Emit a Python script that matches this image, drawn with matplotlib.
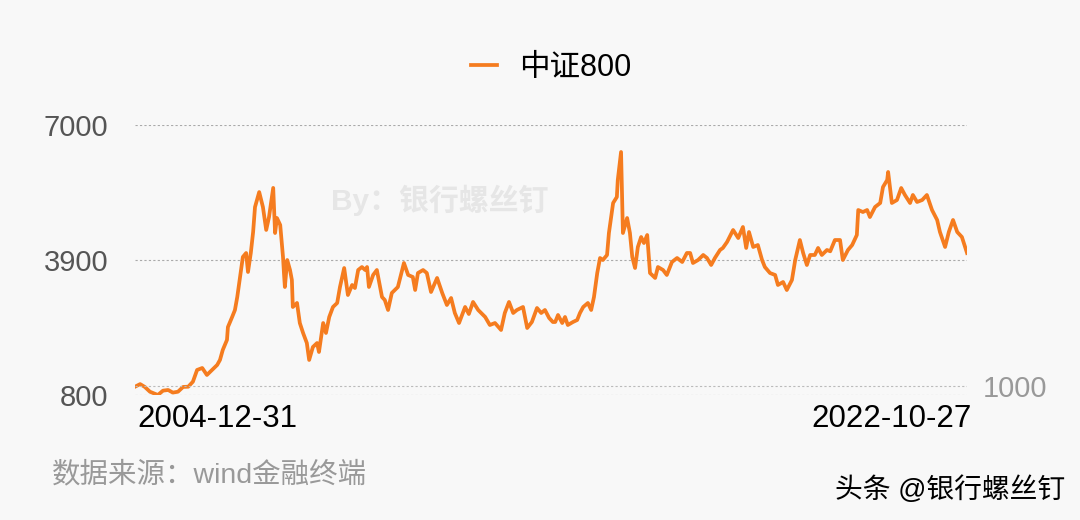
import matplotlib
matplotlib.use('Agg')
import matplotlib.pyplot as plt

plt.rcParams['font.family'] = ['Liberation Sans', 'Noto Sans CJK SC', 'DejaVu Sans']

# 中证800, 时间用小数年表示
t = [2005.00, 2005.11, 2005.21, 2005.32, 2005.43, 2005.49, 2005.60, 2005.71, 2005.81, 2005.92,
     2006.03, 2006.14, 2006.24, 2006.33, 2006.44, 2006.54, 2006.65, 2006.76, 2006.82, 2006.88,
     2006.97, 2006.99, 2007.08, 2007.14, 2007.19, 2007.25, 2007.31, 2007.38, 2007.42, 2007.48,
     2007.53, 2007.57, 2007.66, 2007.74, 2007.81, 2007.87, 2007.96, 2008.00,
     2008.04, 2008.11, 2008.17, 2008.19, 2008.21, 2008.26, 2008.32, 2008.36, 2008.38, 2008.47,
     2008.53, 2008.60, 2008.68, 2008.73, 2008.81, 2008.90, 2008.94, 2009.03, 2009.09, 2009.16,
     2009.24, 2009.33, 2009.39, 2009.48, 2009.56, 2009.65, 2009.71, 2009.78, 2009.86, 2009.93,
     2009.97, 2010.01, 2010.10, 2010.18, 2010.29, 2010.35, 2010.42, 2010.50, 2010.63, 2010.76,
     2010.85, 2010.95, 2011.00,
     2011.06, 2011.17, 2011.25, 2011.34, 2011.47, 2011.58, 2011.68, 2011.77, 2011.85, 2011.94,
     2012.07, 2012.15, 2012.24, 2012.35, 2012.50, 2012.60, 2012.71, 2012.84, 2012.92, 2013.01,
     2013.10, 2013.18, 2013.31, 2013.40, 2013.50, 2013.61, 2013.70, 2013.78, 2013.87, 2013.95,
     2014.00, 2014.06, 2014.15, 2014.21, 2014.27, 2014.38, 2014.47, 2014.53, 2014.60, 2014.70,
     2014.77, 2014.83, 2014.90, 2014.96, 2015.02, 2015.11, 2015.15, 2015.24, 2015.32, 2015.34,
     2015.41, 2015.45, 2015.54, 2015.60, 2015.65, 2015.71, 2015.77, 2015.84, 2015.90, 2015.97,
     2016.03, 2016.14, 2016.20, 2016.31, 2016.39, 2016.50, 2016.61, 2016.72, 2016.82, 2016.89,
     2016.95, 2017.06, 2017.17, 2017.25, 2017.34, 2017.42, 2017.53, 2017.59, 2017.68, 2017.81,
     2017.92, 2018.02, 2018.09, 2018.15, 2018.24, 2018.34, 2018.43, 2018.49, 2018.60, 2018.71,
     2018.77, 2018.88, 2018.96, 2019.07, 2019.14, 2019.24, 2019.31, 2019.39, 2019.46, 2019.56,
     2019.63, 2019.71, 2019.82, 2019.89, 2019.99, 2020.10, 2020.16, 2020.27, 2020.36, 2020.46,
     2020.49, 2020.59, 2020.68, 2020.74, 2020.85, 2020.96, 2021.02, 2021.11, 2021.13, 2021.21,
     2021.32, 2021.41, 2021.49, 2021.60, 2021.66, 2021.75, 2021.86, 2021.96, 2022.07, 2022.18,
     2022.24, 2022.35, 2022.43, 2022.52, 2022.61, 2022.71, 2022.82]

csi800 = [990, 1050, 985, 875, 825, 800, 900, 915, 855, 875,
          985, 990, 1105, 1375, 1420, 1260, 1375, 1490, 1605, 1835,
          2065, 2360, 2590, 2750, 3050, 3510, 3970, 4060, 3625, 4060,
          4545, 5115, 5460, 5115, 4590, 4885, 5555, 4520,
          4864, 4704, 3969, 3601, 3280, 3900, 3670, 3441, 2821, 2913,
          2453, 2224, 1994, 1604, 1902, 1994, 1787, 2453, 2224, 2591,
          2821, 2913, 3280, 3716, 3096, 3326, 3257, 3670, 3739, 3670,
          3739, 3280, 3556, 3670, 3050, 2981, 2752, 3142, 3280, 3831,
          3556, 3510, 3211,
          3601, 3670, 3601, 3165, 3487, 3142, 2867, 3027, 2683, 2453,
          2821, 2660, 2936, 2752, 2591, 2407, 2453, 2293, 2683, 2936,
          2683, 2752, 2821, 2339, 2476, 2798, 2683, 2752, 2568, 2476,
          2476, 2637, 2453, 2591, 2407, 2476, 2522, 2683, 2821, 2913,
          2752, 3050, 3601, 3946, 3900, 4015, 4520, 5209, 5347, 5737,
          6380, 4520, 4864, 4520, 3969, 3716, 4199, 4428, 4290, 4474,
          3601, 3487, 3739, 3670, 3556, 3854, 3946, 3854, 4061, 4061,
          3831, 3900, 4015, 3946, 3785, 3946, 4130, 4176, 4313, 4589,
          4405, 4658, 4176, 4543, 4199, 4244, 3900, 3739, 3601, 3556,
          3326, 3395, 3211, 3441, 3900, 4359, 4061, 3785, 4015, 4015,
          4176, 4015, 4130, 4100, 4359, 4359, 3900, 4130, 4244, 4474,
          5048, 5002, 5048, 4887, 5117, 5209, 5576, 5737, 5921, 5209,
          5278, 5553, 5393, 5209, 5393, 5232, 5278, 5393, 5048, 4819,
          4543, 4199, 4543, 4819, 4543, 4428, 4061]

left_ticks = [800, 3900, 7000]
right_ticks = [1000]
date_labels = ['2004-12-31', '2022-10-27']

bg = '#f8f8f8'
orange = '#f57c1f'

fig = plt.figure(figsize=(10.8, 5.2), dpi=100, facecolor=bg)
ax = fig.add_axes([0.125, 0.2404, 0.7704, 0.5192])
ax.set_facecolor(bg)

ax.plot(t, csi800, color=orange, lw=2.7, label='中证800', zorder=3)

ax.set_xlim(t[0], t[-1])
ax.set_ylim(800, 7000)
ax.set_yticks(left_ticks)
ax.set_yticklabels([str(v) for v in left_ticks], fontsize=21, color='#555555')
ax.tick_params(axis='y', length=0, pad=19)
ax.grid(axis='y', linestyle=(0, (2, 2)), color='#aaaaaa', lw=0.8)
ax.set_xticks([])
for s in ax.spines.values():
    s.set_visible(False)

ax2 = ax.twinx()
ax2.set_ylim(800, 7000)
ax2.set_yticks(right_ticks)
ax2.set_yticklabels([str(v) for v in right_ticks], fontsize=21, color='#999999')
ax2.tick_params(axis='y', length=0, pad=11)
ax2.grid(axis='y', linestyle=(0, (2, 2)), color='#bbbbbb', lw=0.8)
for s in ax2.spines.values():
    s.set_visible(False)

# 起止日期
fig.text(0.127, 0.195, date_labels[0], fontsize=22.5, color='black', ha='left', va='center')
fig.text(0.9, 0.195, date_labels[1], fontsize=22.5, color='black', ha='right', va='center')

leg = ax.legend(loc='center', bbox_to_anchor=(0.5, 1.211), frameon=False,
                fontsize=22, handlelength=0.85, handletextpad=0.7)

# 水印
fig.text(0.407, 0.615, 'By：银行螺丝钉', fontsize=21.5, color='#e6e6e6',
         fontweight='bold', ha='center', va='center', zorder=0)

fig.text(0.048, 0.087, '数据来源：wind金融终端', fontsize=20.5, color='#999999',
         ha='left', va='center')
fig.text(0.986, 0.058, '头条 @银行螺丝钉', fontsize=20, color='black',
         ha='right', va='center')

fig.savefig('out.png', dpi=100, facecolor=bg)
